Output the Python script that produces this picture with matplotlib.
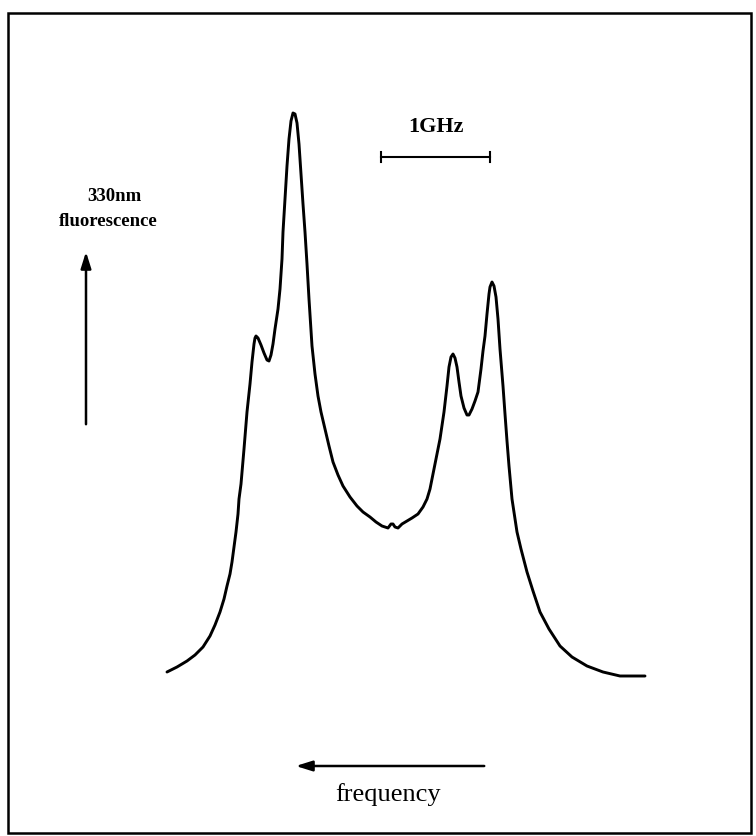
import matplotlib
matplotlib.use("Agg")
import numpy as np
import matplotlib.pyplot as plt
from matplotlib.patches import Rectangle, FancyArrowPatch

# Laser-induced 330 nm fluorescence recorded against scan channel
CHANNELS_PER_GHZ = 109
scan_channel = [0, 10, 20, 28, 36, 43, 48, 53, 57, 60,
                63, 65, 67, 69, 71, 72, 74, 77, 80, 83,
                85, 87, 88, 89, 91, 94, 97, 100, 102, 104,
                106, 108, 111, 113, 115, 116, 118, 120, 122, 124,
                126, 128, 130, 132, 134, 136, 138, 140, 142, 145,
                148, 151, 154, 158, 162, 166, 171, 176, 183, 190,
                196, 203, 209, 215, 218, 221, 224, 226, 228, 231,
                235, 240, 245, 251, 256, 260, 263, 265, 269, 273,
                277, 280, 282, 284, 286, 288, 290, 292, 294, 297,
                300, 302, 305, 308, 311, 314, 316, 318, 320, 322,
                323, 325, 327, 329, 331, 333, 336, 338, 340, 342,
                345, 350, 354, 360, 366, 373, 382, 393, 405, 420,
                436, 453, 478]
counts = [17, 22, 28, 34, 42, 53, 64, 77, 90, 103,
          115, 127, 142, 157, 175, 190, 205, 240, 277, 305,
          327, 345, 351, 353, 351, 344, 336, 329, 328, 334,
          345, 360, 380, 400, 430, 457, 490, 523, 550, 568,
          576, 575, 566, 545, 515, 485, 457, 425, 390, 343,
          315, 293, 277, 260, 243, 227, 214, 203, 192, 183,
          177, 172, 167, 163, 162, 161, 165, 165, 162, 161,
          165, 168, 171, 175, 182, 190, 200, 210, 230, 250,
          277, 303, 322, 332, 335, 331, 322, 307, 293, 281,
          274, 274, 280, 288, 297, 320, 338, 353, 375, 395,
          402, 407, 403, 392, 370, 340, 303, 275, 248, 223,
          190, 157, 140, 117, 98, 77, 60, 43, 32, 23,
          17, 13, 13]

# 1 GHz scale bar (in scan channels / counts)
scale_start = 214
scale_level = 532

W, H = 756, 837
fig = plt.figure(figsize=(W / 100, H / 100), dpi=100)
fig.patch.set_facecolor("white")

ax = fig.add_axes([0, 0, 1, 1])
ax.set_xlim(-167 / CHANNELS_PER_GHZ, 589 / CHANNELS_PER_GHZ)
ax.set_ylim(-147, 690)
ax.axis("off")

freq_ghz = np.asarray(scan_channel) / CHANNELS_PER_GHZ
ax.plot(freq_ghz, counts, color="black", lw=2.1, solid_joinstyle="round",
        solid_capstyle="round")

# scale bar with end ticks
x0 = scale_start / CHANNELS_PER_GHZ
x1 = x0 + 1.0
ax.plot([x0, x1], [scale_level, scale_level], color="black", lw=1.5)
for xe in (x0, x1):
    ax.plot([xe, xe], [scale_level - 5, scale_level + 5],
            color="black", lw=1.5)

serif = ["Liberation Serif", "DejaVu Serif"]


def fx(px):
    return px / W


def fy(py):
    return 1 - py / H


fig.text(fx(436), fy(127), "1GHz", ha="center", va="center",
         fontsize=16, fontweight="bold", family=serif)

fig.text(fx(114), fy(197), "330nm", ha="center", va="center",
         fontsize=13.5, fontweight="bold", family=serif)
fig.text(fx(108), fy(221), "fluorescence", ha="center", va="center",
         fontsize=13.5, fontweight="bold", family=serif)

fig.text(fx(388), fy(795), "frequency", ha="center", va="center",
         fontsize=19, family=serif)

arrow_style = "-|>,head_length=0.7,head_width=0.22"

# signal-axis arrow (up)
fig.add_artist(FancyArrowPatch((fx(86), fy(428)), (fx(86), fy(250)),
                               transform=fig.transFigure,
                               arrowstyle=arrow_style,
                               color="black", lw=1.8, mutation_scale=14))

# frequency arrow (left)
fig.add_artist(FancyArrowPatch((fx(487), fy(767)), (fx(293), fy(767)),
                               transform=fig.transFigure,
                               arrowstyle=arrow_style,
                               color="black", lw=1.8, mutation_scale=14))

# frame
fig.add_artist(Rectangle((fx(8), fy(834)), fx(751) - fx(8), fy(14) - fy(834),
                         transform=fig.transFigure, fill=False,
                         edgecolor="black", lw=1.8))

fig.savefig("out.png", dpi=100, facecolor="white")
